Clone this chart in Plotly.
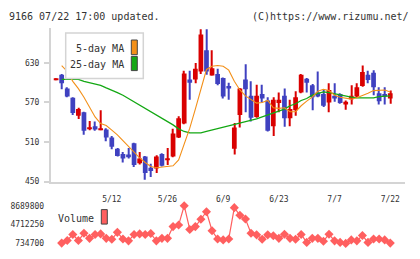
import plotly.graph_objects as go

# ---------------- data ----------------
dates = ["4/23", "4/24", "4/25", "4/28", "4/30", "5/1", "5/2", "5/7", "5/8", "5/9",
         "5/12", "5/13", "5/14", "5/15", "5/16", "5/19", "5/20", "5/21", "5/22", "5/23",
         "5/26", "5/27", "5/28", "5/29", "5/30", "6/2", "6/3", "6/4", "6/5", "6/6",
         "6/9", "6/10", "6/11", "6/12", "6/13", "6/16", "6/17", "6/18", "6/19", "6/20",
         "6/23", "6/24", "6/25", "6/26", "6/27", "6/30", "7/1", "7/2", "7/3", "7/4",
         "7/7", "7/8", "7/9", "7/10", "7/11", "7/14", "7/15", "7/16", "7/17", "7/18",
         "7/22"]

opens = [605, 612, 591, 577, 550, 555, 530, 534, 529, 529,
         517, 500, 492, 491, 508, 478, 488, 471, 470, 492,
         483, 488, 517, 538, 605, 605, 617, 649, 611, 613,
         607, 595, 500, 551, 605, 580, 548, 583, 573, 534,
         569, 580, 546, 558, 585, 606, 596, 585, 583, 570,
         580, 583, 567, 575, 579, 595, 612, 615, 584, 583,
         576]
highs = [606, 613, 593, 578, 562, 556, 542, 541, 558, 531,
         519, 501, 495, 501, 509, 495, 489, 477, 490, 493,
         501, 530, 549, 618, 618, 630, 681, 681, 649, 621,
         608, 600, 539, 592, 628, 602, 597, 597, 578, 578,
         585, 591, 574, 587, 613, 607, 598, 617, 590, 599,
         599, 584, 573, 596, 599, 626, 618, 619, 593, 593,
         588]
lows = [604, 590, 578, 551, 545, 521, 528, 527, 528, 511,
        499, 488, 479, 485, 472, 476, 453, 457, 463, 473,
        475, 487, 516, 537, 574, 599, 613, 612, 611, 596,
        576, 574, 491, 532, 555, 541, 547, 570, 526, 519,
        555, 533, 534, 550, 584, 585, 558, 578, 563, 555,
        571, 568, 559, 567, 578, 594, 599, 581, 567, 567,
        568]
closes = [605, 599, 579, 554, 560, 527, 532, 529, 531, 517,
          503, 489, 485, 488, 475, 485, 463, 466, 488, 474,
          484, 523, 546, 614, 600, 621, 673, 617, 622, 598,
          579, 591, 532, 591, 590, 547, 580, 576, 527, 574,
          574, 546, 560, 578, 612, 600, 578, 579, 565, 589,
          576, 569, 571, 580, 593, 616, 604, 593, 572, 579,
          584]

ma5 = [None, 626, 617, 602, 591, 578, 562, 548, 538, 535,
       528, 521, 512, 503, 494, 486, 479, 473, 471, 472,
       473, 474, 483, 508, 531, 560, 590, 620, 625, 626,
       625, 619, 602, 589, 580, 574, 569, 570, 573, 562,
       561, 562, 556, 556, 565, 572, 578, 587, 590, 588,
       581, 578, 576, 575, 577, 580, 584, 588, 589, 589,
       586]
ma25 = [None, 605, 605, 605, 605, 602, 600, 598, 596, 592,
        589, 585, 581, 576, 572, 567, 562, 556, 552, 546,
        541, 536, 530, 526, 524, 524, 524, 526, 528, 530,
        532, 535, 537, 538, 540, 542, 545, 548, 551, 554,
        557, 560, 565, 568, 573, 576, 581, 584, 586, 585,
        583, 582, 580, 578, 577, 577, 577, 577, 579, 580,
        580]

volume = [None, 800000, 1340000, 2610000, 1340000, 2870000, 1800000, 2610000, 2740000, 1800000,
          1600000, 3070000, 1670000, 1270000, 2610000, 2740000, 2610000, 2810000, 1270000, 1800000,
          1800000, 4280000, 4610000, 8689800, 3680000, 4280000, 5820000, 7420000, 3410000, 1670000,
          1470000, 1670000, 8290000, 6680000, 5880000, 2870000, 2540000, 1600000, 2540000, 2340000,
          1800000, 2670000, 1800000, 1600000, 2610000, 940000, 1800000, 1800000, 1200000, 2670000,
          1270000, 940000, 734700, 1470000, 1270000, 2410000, 940000, 1670000, 1670000, 1470000,
          800000]

price_ticks = [450, 510, 570, 630]
date_ticks = ["5/12", "5/26", "6/9", "6/23", "7/7", "7/22"]
vol_ticks = [734700, 4712250, 8689800]
vol_tick_text = ["734700", "4712250", "8689800"]

# ---------------- style ----------------
W, H = 420, 259
UP, DOWN = "#d90000", "#3f41c0"
ORANGE, GREEN = "#f39019", "#14a814"
VOLC = "#ff5f5f"
AXC = "#d4d4d4"
TXT = "#333333"
FONT = "DejaVu Sans Mono"


def px(x):
    return x / W


def py(y):
    return 1 - y / H


colors = [UP if c >= o else DOWN for o, c in zip(opens, closes)]
body_base = [min(o, c) for o, c in zip(opens, closes)]
body_h = [max(abs(c - o), 1.3) for o, c in zip(opens, closes)]
wick_h = [h - l for h, l in zip(highs, lows)]

fig = go.Figure()

fig.add_trace(go.Bar(x=dates, y=wick_h, base=lows, width=0.2,
                     marker=dict(color=colors, line=dict(width=0)),
                     xaxis="x", yaxis="y", showlegend=False, hoverinfo="skip"))
fig.add_trace(go.Bar(x=dates, y=body_h, base=body_base, width=0.85,
                     marker=dict(color=colors, line=dict(width=0)),
                     xaxis="x", yaxis="y", showlegend=False, hoverinfo="skip"))
fig.add_trace(go.Scatter(x=dates, y=ma25, mode="lines",
                         line=dict(color=GREEN, width=1.3),
                         xaxis="x", yaxis="y", showlegend=False))
fig.add_trace(go.Scatter(x=dates, y=ma5, mode="lines",
                         line=dict(color=ORANGE, width=1.1),
                         xaxis="x", yaxis="y", showlegend=False))
fig.add_trace(go.Scatter(x=dates, y=volume, mode="lines+markers",
                         line=dict(color=VOLC, width=1.2),
                         marker=dict(symbol="diamond", size=7, color=VOLC),
                         cliponaxis=False,
                         xaxis="x2", yaxis="y2", showlegend=False))

xdom = [px(50.7), px(405.3)]
xr = [-0.97, 62.7]

fig.update_layout(
    width=W, height=H,
    margin=dict(l=0, r=0, t=0, b=0),
    paper_bgcolor="white", plot_bgcolor="white",
    barmode="overlay",
    font=dict(family=FONT, size=8, color=TXT),
    xaxis=dict(domain=xdom, range=xr, type="category",
               tickmode="array", tickvals=date_ticks, ticktext=date_ticks,
               ticks="outside", ticklen=9, tickcolor="rgba(0,0,0,0)",
               showline=True, linecolor=AXC, linewidth=1.5,
               showgrid=False, zeroline=False, anchor="y",
               tickfont=dict(family=FONT, size=8, color=TXT)),
    xaxis3=dict(domain=xdom, range=[0, 11], overlaying="x", anchor="y",
                tickmode="linear", tick0=0, dtick=1,
                ticks="outside", ticklen=5, tickwidth=1.5, tickcolor=AXC,
                showticklabels=False, showline=False, showgrid=False, zeroline=False),
    yaxis=dict(domain=[py(184), py(25)], range=[450, 682.7],
               tickmode="array", tickvals=price_ticks,
               ticks="outside", ticklen=5, tickwidth=1.5, tickcolor=AXC,
               ticklabelstandoff=3,
               showline=True, linecolor=AXC, linewidth=1.5,
               showgrid=False, zeroline=False, anchor="x",
               tickfont=dict(family=FONT, size=8, color=TXT)),
    xaxis2=dict(domain=xdom, range=xr, type="category", anchor="y2",
                visible=False, categoryorder="array", categoryarray=dates),
    yaxis2=dict(domain=[py(248), py(209)], range=[vol_ticks[0], vol_ticks[-1]],
                tickmode="array", tickvals=vol_ticks, ticktext=vol_tick_text,
                ticks="outside", ticklen=4, tickcolor="rgba(0,0,0,0)",
                showline=False, showgrid=False, zeroline=False, anchor="x2",
                tickfont=dict(family=FONT, size=8, color=TXT)),
)

shapes = [
    # price legend box
    dict(type="rect", xref="paper", yref="paper", layer="above",
         x0=px(65.7), x1=px(143.3), y0=py(77.3), y1=py(30),
         fillcolor="white", line=dict(color=AXC, width=1.5)),
    dict(type="rect", xref="paper", yref="paper", layer="above",
         x0=px(131.3), x1=px(137.3), y0=py(52.5), y1=py(37.3),
         fillcolor=ORANGE, line=dict(color="#444444", width=1)),
    dict(type="rect", xref="paper", yref="paper", layer="above",
         x0=px(131.3), x1=px(137.3), y0=py(69), y1=py(54.3),
         fillcolor=GREEN, line=dict(color="#444444", width=1)),
    # volume legend swatch
    dict(type="rect", xref="paper", yref="paper", layer="above",
         x0=px(101.3), x1=px(107.3), y0=py(228), y1=py(213),
         fillcolor=VOLC, line=dict(color="#444444", width=1)),
]
fig.update_layout(shapes=shapes)

ann = [
    dict(text="9166 07/22 17:00 updated.", x=px(7), y=py(13), xanchor="left", yanchor="middle"),
    dict(text="(C)https://www.rizumu.net/", x=px(411), y=py(13), xanchor="right", yanchor="middle"),
    dict(text="5-day MA", x=px(126), y=py(46), xanchor="right", yanchor="middle"),
    dict(text="25-day MA", x=px(126), y=py(62.5), xanchor="right", yanchor="middle"),
    dict(text="Volume", x=px(95.5), y=py(222), xanchor="right", yanchor="middle"),
]
for a in ann:
    a.update(xref="paper", yref="paper", showarrow=False,
             font=dict(family=FONT, size=10, color=TXT))
fig.update_layout(annotations=ann)

fig.write_html("out.html")
